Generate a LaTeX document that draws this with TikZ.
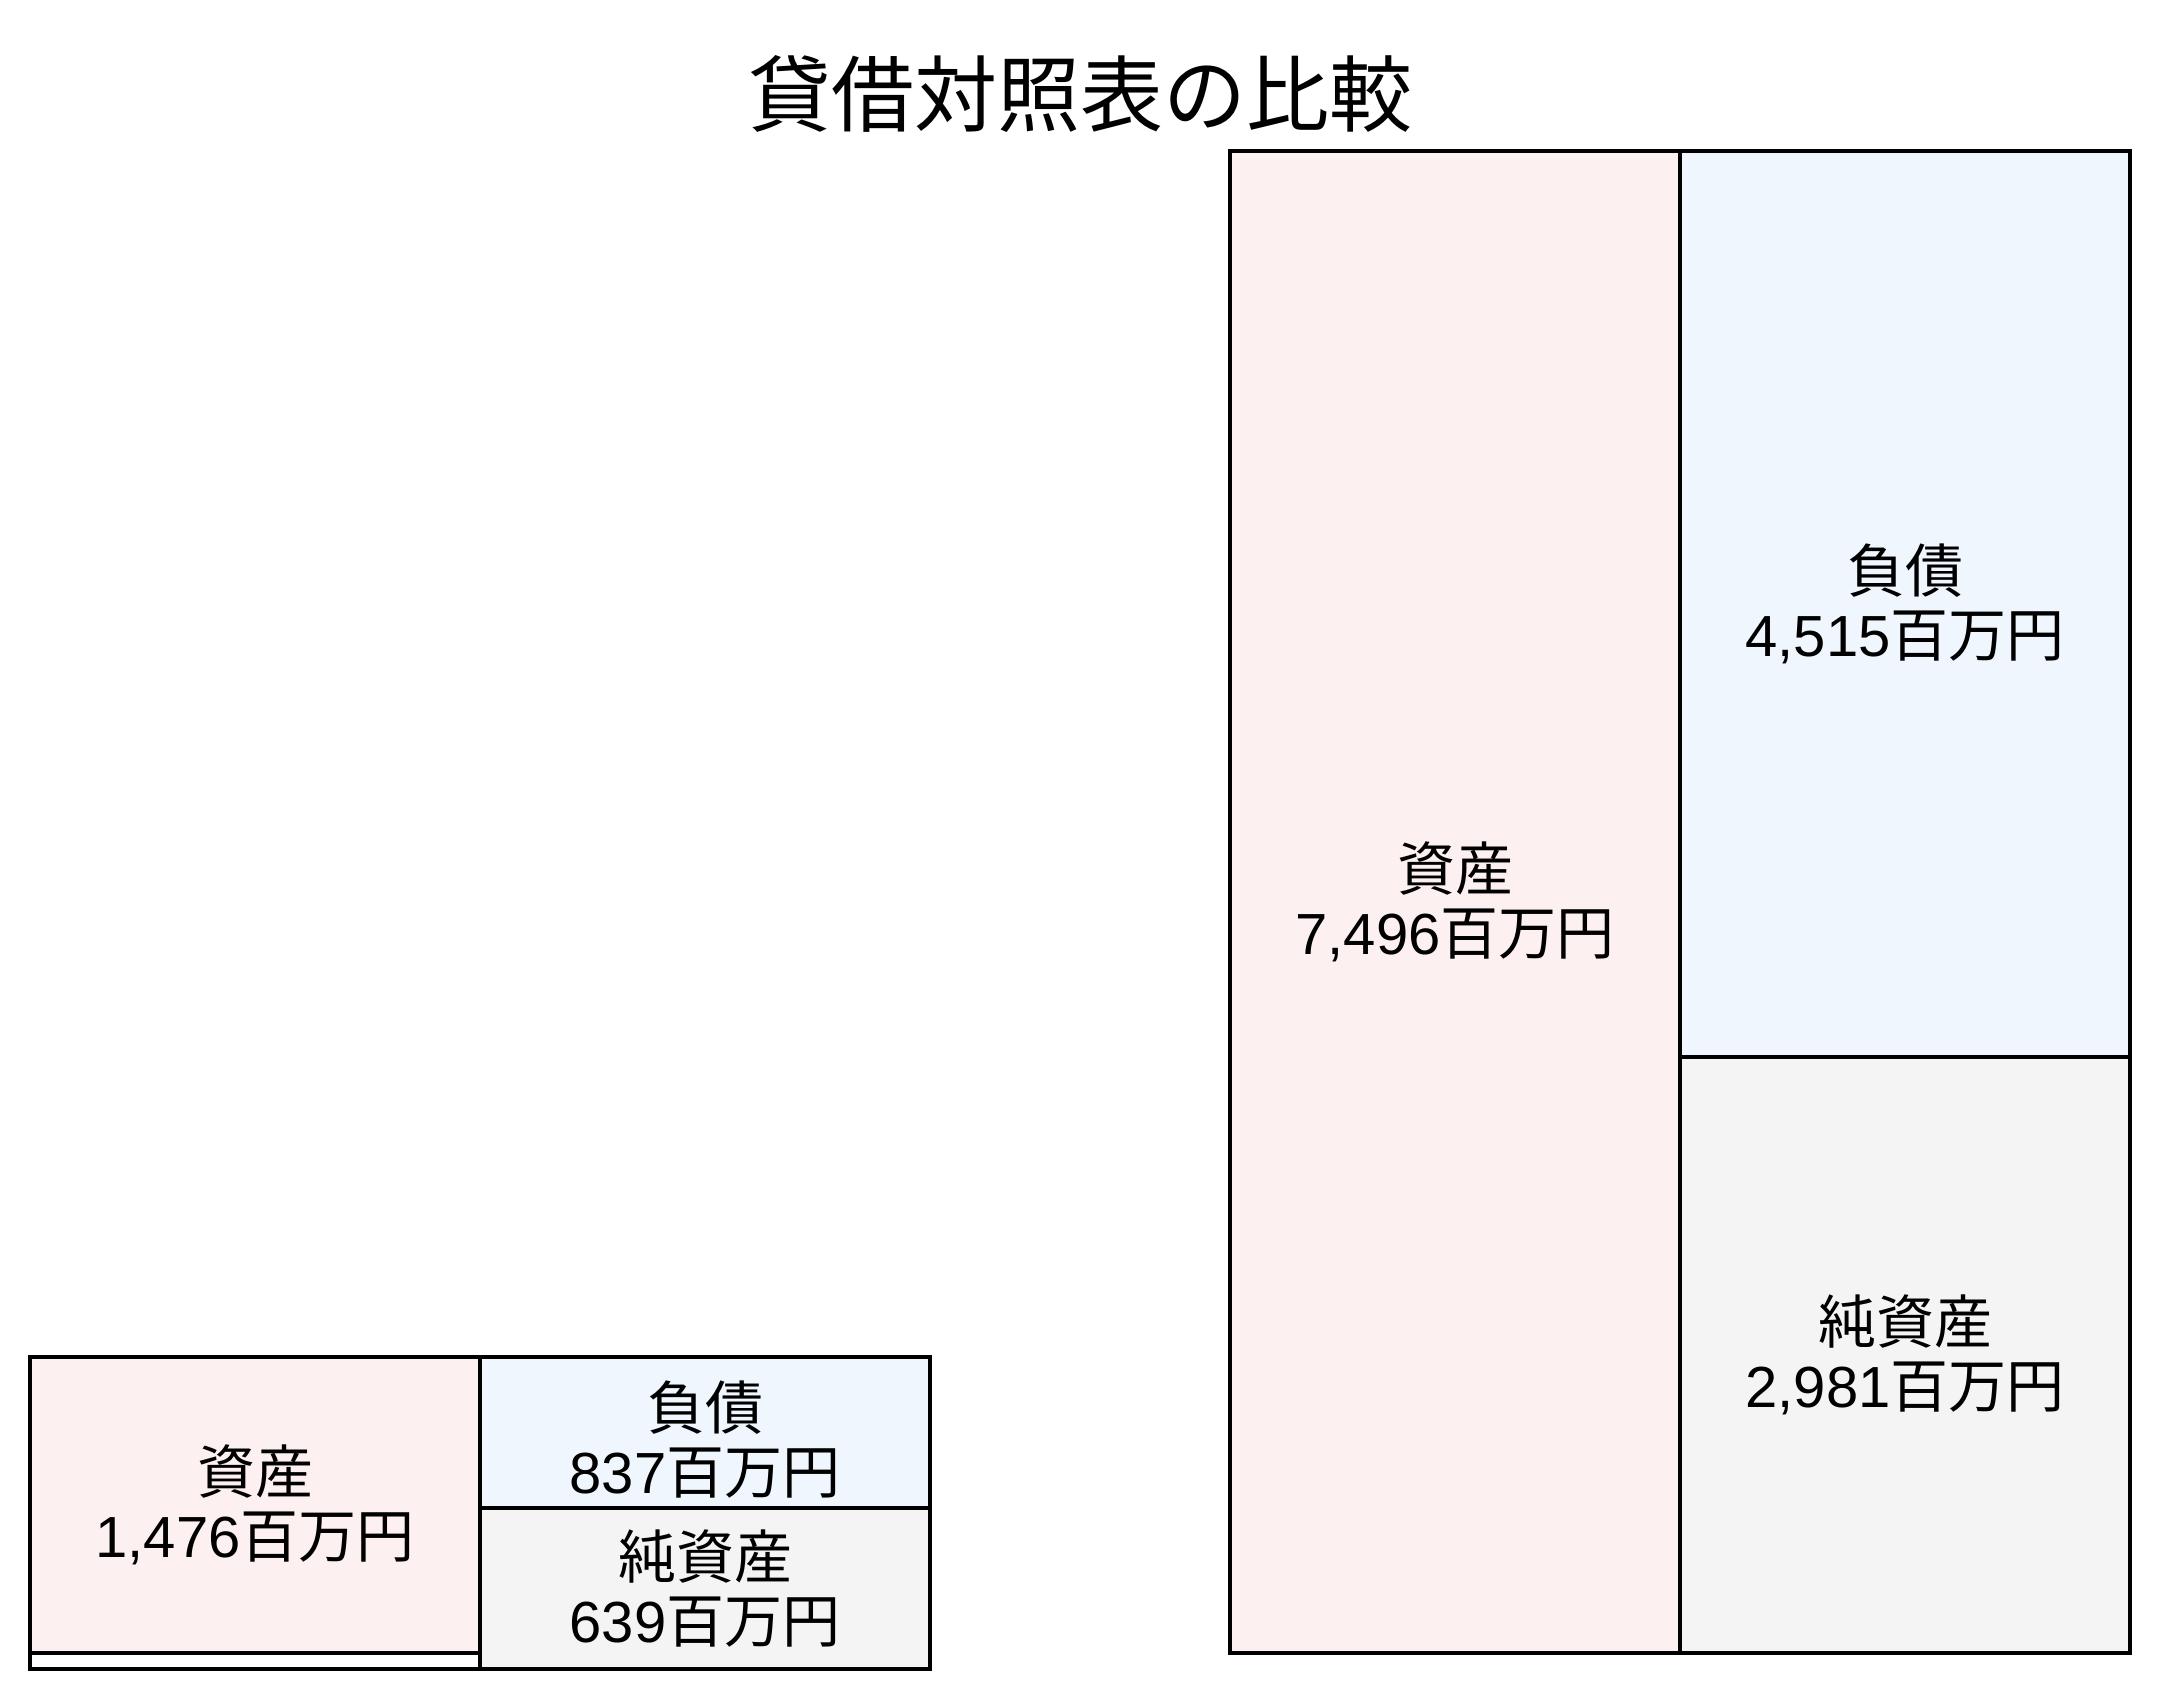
\documentclass[tikz,border=0pt]{standalone}
\usepackage{fontspec}
\setmainfont{Liberation Sans}
\newfontfamily\cjk{Noto Sans CJK JP}
\definecolor{assetfill}{RGB}{253,240,240}
\definecolor{debtfill}{RGB}{239,246,254}
\definecolor{equityfill}{RGB}{244,244,244}
\begin{document}
\begin{tikzpicture}[x=0.5pt,y=-0.5pt,
  box/.style={draw=black,line width=2pt,inner sep=0pt,align=center,
    minimum width=225pt,font=\fontsize{29pt}{32pt}\selectfont},
  asset/.style={box,fill=assetfill},
  debt/.style={box,fill=debtfill},
  equity/.style={box,fill=equityfill},
]
\useasboundingbox (0,0) rectangle (2160,1700);
%%
\node (title) at (1080,94) [font=\fontsize{41.5pt}{48pt}\selectfont\cjk] {貸借対照表の比較};
%% small balance sheet
\node (small_strip) at (255,1661) [box,fill=white,minimum height=8pt] {};
\node (small_asset) at (255,1505) [asset,minimum height=148pt] {{\cjk 資産}\\1,476{\cjk 百万円}};
\node (small_debt) at (705,1432.5) [debt,minimum height=75.5pt] {};
\node (small_debt_label) at (705,1440) [font=\fontsize{29pt}{32pt}\selectfont,align=center] {{\cjk 負債}\\837{\cjk 百万円}};
\node (small_equity) at (705,1588.5) [equity,minimum height=80.5pt] {{\cjk 純資産}\\639{\cjk 百万円}};
%% large balance sheet
\node (big_asset) at (1455,902) [asset,minimum height=751pt] {{\cjk 資産}\\7,496{\cjk 百万円}};
\node (big_debt) at (1905,604) [debt,minimum height=453pt] {{\cjk 負債}\\4,515{\cjk 百万円}};
\node (big_equity) at (1905,1355) [equity,minimum height=298pt] {{\cjk 純資産}\\2,981{\cjk 百万円}};
%
\end{tikzpicture}
\end{document}
